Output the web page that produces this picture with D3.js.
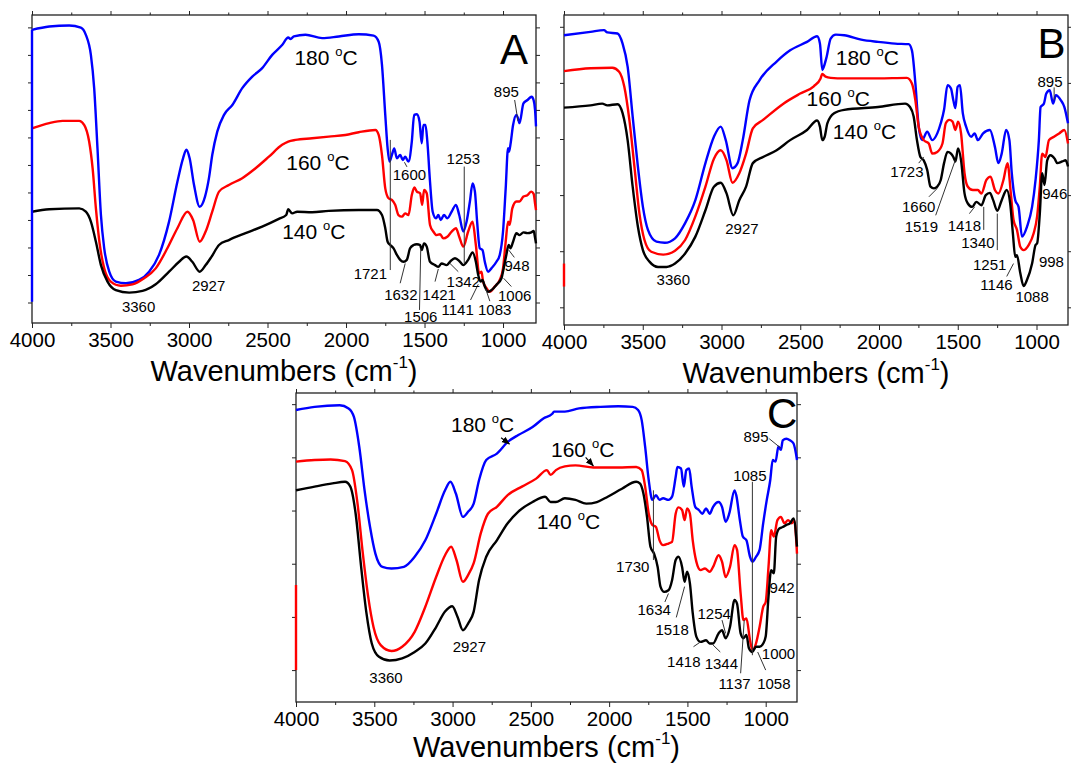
<!DOCTYPE html>
<html>
<head>
<meta charset="utf-8">
<script src="https://cdn.jsdelivr.net/npm/d3@7"></script>
<style>
  html, body { margin: 0; padding: 0; background: #fff; }
  svg { display: block; }
  text { font-family: "Liberation Sans", Arial, Helvetica, sans-serif; fill: #000; }
</style>
</head>
<body>
<svg id="chart" width="1071" height="764"></svg>
<script>
// ---------------- DATA ----------------
const majorTicks = [4000, 3500, 3000, 2500, 2000, 1500, 1000];
const minorTicks = [3750, 3250, 2750, 2250, 1750, 1250];
const seriesNames = ["180", "160", "140"];
const seriesColors = ["#0000ff", "#ff0000", "#000000"];

// Panel A  [wavenumber, relative transmittance (a.u.)]
const A_180 = [[4000,9.91],[3890,10.03],[3763,10.07],[3689,9.99],[3657,9.73],[3625,9.0],[3604,7.79],[3583,5.61],[3561,3.18],[3540,1.97],[3508,1.12],[3466,0.76],[3402,0.70],[3318,0.82],[3254,1.12],[3191,1.73],[3127,2.94],[3074,4.39],[3038,5.24],[3017,5.55],[2996,5.24],[2968,4.27],[2932,3.48],[2898,3.85],[2873,4.52],[2852,5.36],[2820,6.21],[2777,6.82],[2724,7.18],[2661,7.79],[2597,8.21],[2534,8.52],[2470,9.0],[2407,9.36],[2368,9.63],[2353,9.58],[2332,9.67],[2258,9.73],[2152,9.61],[2046,9.67],[1919,9.75],[1824,9.70],[1792,9.48],[1771,8.64],[1750,6.82],[1735,5.6],[1723,5.12],[1708,5.36],[1693,5.6],[1676,5.24],[1655,5.36],[1638,5.18],[1623,5.3],[1602,5.12],[1581,5.85],[1566,6.82],[1549,6.84],[1532,6.58],[1518,5.79],[1507,6.45],[1494,6.45],[1482,5.85],[1465,4.39],[1448,3.30],[1427,3.06],[1412,3.18],[1397,3.0],[1376,3.18],[1355,3.06],[1327,3.30],[1300,3.55],[1279,3.18],[1253,2.58],[1232,2.94],[1211,3.67],[1194,4.33],[1179,4.03],[1165,2.94],[1148,1.97],[1131,1.91],[1116,1.48],[1095,1.12],[1074,1.24],[1042,1.48],[1021,1.73],[1000,2.58],[983,4.15],[968,5.61],[962,5.48],[953,5.73],[936,6.45],[915,6.82],[905,6.7],[895,6.52],[870,7.24],[844,7.36],[818,7.48],[805,7.35],[796,7.0],[790,6.4]];
const A_160 = [[4000,6.33],[3890,6.52],[3805,6.60],[3699,6.60],[3667,6.45],[3636,5.85],[3614,4.88],[3593,3.42],[3568,2.09],[3540,1.24],[3498,0.76],[3434,0.61],[3360,0.66],[3286,0.88],[3212,1.24],[3138,1.97],[3074,2.70],[3010,3.30],[2974,3.0],[2932,2.21],[2894,2.58],[2852,3.30],[2809,4.03],[2746,4.27],[2661,4.52],[2576,4.88],[2491,5.30],[2407,5.73],[2368,5.85],[2322,5.91],[2216,5.97],[2110,6.03],[2004,6.09],[1919,6.19],[1813,6.27],[1792,6.09],[1771,5.36],[1750,4.15],[1729,3.79],[1708,3.73],[1687,3.55],[1666,3.18],[1644,3.12],[1623,3.24],[1602,3.18],[1581,3.91],[1564,4.18],[1549,4.03],[1528,3.97],[1515,3.55],[1503,4.09],[1486,3.97],[1465,2.82],[1444,2.58],[1423,2.45],[1401,2.48],[1380,2.33],[1355,2.39],[1327,2.58],[1300,2.70],[1279,2.39],[1253,2.03],[1222,2.58],[1194,2.94],[1173,2.09],[1152,1.06],[1137,1.12],[1127,0.76],[1105,0.52],[1084,0.39],[1053,0.58],[1021,0.82],[1000,1.24],[983,2.21],[968,2.94],[958,2.82],[941,3.42],[915,3.67],[895,3.67],[870,3.85],[845,3.9],[820,4.03],[805,3.95],[796,3.6],[790,3.36]];
const A_140 = [[4000,3.30],[3890,3.39],[3699,3.42],[3657,3.30],[3625,2.94],[3593,2.21],[3561,1.36],[3519,0.76],[3466,0.45],[3381,0.36],[3296,0.42],[3212,0.66],[3127,1.12],[3063,1.48],[3017,1.67],[2979,1.48],[2932,1.12],[2894,1.36],[2856,1.67],[2809,2.09],[2746,2.27],[2640,2.52],[2534,2.76],[2428,3.04],[2381,3.18],[2368,3.39],[2343,3.24],[2311,3.30],[2216,3.28],[2110,3.33],[1919,3.36],[1803,3.36],[1771,3.18],[1750,2.70],[1735,2.21],[1718,2.09],[1697,1.97],[1676,1.73],[1655,1.55],[1634,1.48],[1613,1.55],[1592,1.97],[1570,2.09],[1549,2.12],[1528,2.09],[1518,1.91],[1503,2.15],[1486,2.03],[1465,1.48],[1433,1.36],[1412,1.30],[1391,1.42],[1359,1.36],[1338,1.48],[1306,1.61],[1274,1.48],[1253,1.36],[1222,1.55],[1194,1.82],[1173,1.48],[1158,1.0],[1143,0.76],[1131,0.82],[1116,0.58],[1095,0.39],[1074,0.45],[1042,0.64],[1010,0.88],[996,1.24],[979,1.73],[964,2.09],[953,1.97],[936,2.21],[915,2.52],[895,2.45],[870,2.55],[845,2.52],[820,2.55],[805,2.6],[796,2.35],[790,2.15]];

// Panel B
const B_180 = [[4000,4.85],[3832,4.91],[3746,4.94],[3725,4.90],[3660,4.88],[3628,4.70],[3596,4.29],[3564,3.40],[3531,2.51],[3499,1.79],[3467,1.38],[3413,1.17],[3360,1.15],[3295,1.23],[3231,1.50],[3166,1.91],[3102,2.57],[3048,3.04],[3005,3.22],[2973,2.98],[2930,2.48],[2898,2.57],[2865,2.98],[2822,3.69],[2758,4.05],[2650,4.38],[2564,4.58],[2457,4.73],[2393,4.83],[2375,4.70],[2360,4.23],[2350,4.29],[2332,4.47],[2307,4.79],[2274,4.86],[2221,4.85],[2113,4.77],[2006,4.73],[1898,4.70],[1812,4.69],[1791,4.58],[1769,3.99],[1748,3.22],[1726,2.98],[1694,3.13],[1662,2.98],[1630,3.10],[1608,3.28],[1587,3.52],[1565,3.96],[1543,3.90],[1528,3.69],[1515,3.55],[1501,3.93],[1486,3.96],[1468,3.46],[1447,3.22],[1415,3.04],[1393,3.10],[1372,2.98],[1339,3.10],[1296,3.16],[1264,2.86],[1242,2.57],[1221,2.74],[1193,3.16],[1172,2.98],[1157,2.39],[1135,1.91],[1114,1.79],[1092,1.26],[1060,1.44],[1028,1.79],[1006,2.27],[985,2.98],[974,3.57],[953,3.63],[938,3.81],[916,3.87],[895,3.63],[877,3.78],[845,3.69],[823,3.57],[800,3.28]];
const B_160 = [[4000,4.21],[3832,4.26],[3693,4.27],[3650,4.20],[3617,3.93],[3585,3.34],[3553,2.51],[3521,1.67],[3489,1.20],[3446,0.99],[3370,0.94],[3295,1.01],[3231,1.20],[3166,1.62],[3102,2.15],[3048,2.65],[3005,2.80],[2968,2.62],[2930,2.22],[2887,2.39],[2844,2.74],[2801,3.19],[2736,3.34],[2607,3.63],[2500,3.81],[2414,3.94],[2371,4.08],[2360,4.16],[2339,4.11],[2307,4.09],[2221,4.08],[2006,4.08],[1823,4.09],[1791,3.99],[1769,3.69],[1748,3.22],[1716,2.98],[1684,2.92],[1662,2.74],[1630,2.77],[1597,2.92],[1576,3.28],[1554,3.34],[1533,3.31],[1515,3.16],[1498,3.31],[1479,3.10],[1457,2.39],[1436,2.15],[1404,2.09],[1372,2.09],[1350,2.03],[1318,2.27],[1292,2.33],[1264,2.09],[1242,2.03],[1210,2.27],[1184,2.57],[1163,2.03],[1146,1.56],[1124,1.38],[1103,1.08],[1082,1.02],[1050,1.11],[1018,1.32],[996,1.62],[979,2.15],[964,2.74],[943,2.68],[921,2.98],[889,3.04],[856,3.10],[823,3.16],[800,2.92]];
const B_140 = [[4000,3.56],[3832,3.60],[3757,3.63],[3725,3.60],[3660,3.62],[3628,3.46],[3596,2.98],[3564,2.15],[3531,1.44],[3499,1.02],[3456,0.81],[3403,0.72],[3349,0.72],[3295,0.78],[3231,0.96],[3166,1.26],[3102,1.73],[3048,2.15],[3005,2.22],[2968,2.03],[2925,1.64],[2887,1.91],[2844,2.15],[2801,2.57],[2736,2.68],[2650,2.80],[2564,2.98],[2457,3.16],[2393,3.33],[2375,3.22],[2360,2.98],[2345,3.04],[2328,3.28],[2285,3.46],[2221,3.52],[2006,3.57],[1834,3.63],[1803,3.57],[1780,3.40],[1759,2.98],[1737,2.68],[1716,2.62],[1694,2.45],[1673,2.15],[1651,2.12],[1630,2.15],[1608,2.27],[1587,2.57],[1565,2.77],[1543,2.74],[1528,2.68],[1515,2.60],[1498,2.83],[1479,2.62],[1457,2.03],[1436,1.85],[1408,1.79],[1382,1.88],[1350,1.82],[1322,2.00],[1296,2.04],[1275,1.91],[1249,1.72],[1221,1.91],[1189,2.09],[1167,1.85],[1150,1.32],[1135,0.90],[1124,0.93],[1103,0.61],[1082,0.38],[1060,0.49],[1028,0.78],[1006,1.11],[996,1.14],[979,1.67],[964,2.39],[949,2.18],[932,2.62],[911,2.71],[885,2.65],[868,2.57],[836,2.60],[815,2.62],[800,2.51]];

// Panel C
const C_180 = [[4000,4.89],[3881,4.95],[3721,4.98],[3664,4.92],[3630,4.76],[3596,4.20],[3562,3.38],[3527,2.69],[3493,2.19],[3448,1.94],[3390,1.91],[3311,1.94],[3242,2.13],[3174,2.44],[3105,2.94],[3048,3.38],[3014,3.54],[2979,3.32],[2934,2.88],[2900,2.98],[2865,3.13],[2831,3.57],[2785,3.95],[2717,4.07],[2648,4.29],[2580,4.42],[2489,4.57],[2420,4.73],[2363,4.82],[2352,4.86],[2283,4.86],[2192,4.92],[2055,4.95],[1941,4.96],[1849,4.95],[1815,4.89],[1792,4.70],[1770,4.20],[1747,3.57],[1724,3.20],[1701,3.29],[1678,3.20],[1655,3.23],[1621,3.20],[1598,3.26],[1575,3.63],[1564,3.82],[1541,3.79],[1523,3.45],[1507,3.76],[1489,3.79],[1473,3.45],[1450,3.07],[1427,3.01],[1404,2.94],[1381,3.04],[1358,2.94],[1336,3.07],[1301,3.16],[1279,3.07],[1256,2.79],[1233,2.94],[1199,3.38],[1188,3.29],[1165,2.82],[1146,2.51],[1123,2.44],[1100,2.13],[1085,2.04],[1062,2.13],[1039,2.26],[1016,2.76],[993,3.20],[971,3.57],[955,3.95],[937,3.92],[919,4.20],[903,4.14],[891,4.32],[868,4.35],[845,4.32],[822,4.26],[800,3.95]];
const C_160 = [[4000,3.92],[3881,3.95],[3779,3.96],[3687,3.93],[3642,3.76],[3607,3.13],[3573,2.19],[3539,1.38],[3505,0.81],[3459,0.47],[3390,0.36],[3322,0.44],[3242,0.72],[3174,1.19],[3105,1.75],[3048,2.16],[3009,2.32],[2975,2.07],[2934,1.66],[2900,1.79],[2865,2.01],[2820,2.57],[2774,2.94],[2717,3.07],[2648,3.29],[2557,3.45],[2466,3.60],[2397,3.76],[2374,3.67],[2340,3.76],[2283,3.83],[2215,3.85],[2101,3.81],[1941,3.81],[1827,3.82],[1792,3.76],[1770,3.45],[1747,2.94],[1724,2.73],[1701,2.69],[1678,2.44],[1655,2.35],[1621,2.38],[1598,2.41],[1575,2.94],[1557,3.06],[1534,3.01],[1518,2.82],[1502,3.04],[1484,2.94],[1466,2.44],[1443,2.04],[1416,1.88],[1388,1.91],[1358,1.85],[1336,1.94],[1301,2.16],[1279,2.04],[1256,1.75],[1228,1.94],[1199,2.35],[1183,2.26],[1160,1.44],[1142,0.94],[1123,0.97],[1100,0.56],[1085,0.38],[1062,0.50],[1039,0.81],[1016,1.19],[1000,1.28],[982,1.94],[965,2.63],[948,2.51],[925,2.82],[903,2.88],[880,2.76],[857,2.82],[834,2.76],[818,2.82],[800,2.19]];
const C_140 = [[4000,3.38],[3881,3.45],[3767,3.51],[3687,3.54],[3653,3.45],[3619,2.94],[3584,1.94],[3550,1.07],[3516,0.50],[3470,0.25],[3402,0.18],[3322,0.22],[3242,0.34],[3174,0.50],[3105,0.81],[3048,1.10],[3002,1.20],[2968,1.00],[2934,0.75],[2900,0.88],[2865,1.10],[2831,1.69],[2785,2.13],[2717,2.44],[2648,2.76],[2580,2.98],[2489,3.16],[2409,3.26],[2374,3.16],[2340,3.16],[2283,3.23],[2215,3.20],[2146,3.13],[2078,3.16],[2009,3.26],[1918,3.41],[1827,3.54],[1804,3.51],[1781,3.32],[1758,2.88],[1736,2.32],[1713,2.19],[1690,1.94],[1672,1.57],[1648,1.47],[1621,1.50],[1598,1.69],[1575,2.07],[1557,2.13],[1534,1.94],[1518,1.66],[1502,1.85],[1484,1.63],[1466,1.07],[1443,0.63],[1416,0.53],[1381,0.56],[1358,0.50],[1336,0.50],[1301,0.69],[1279,0.75],[1256,0.60],[1228,0.81],[1199,1.32],[1183,1.25],[1160,0.69],[1142,0.60],[1123,0.66],[1107,0.41],[1085,0.34],[1062,0.44],[1039,0.44],[1016,0.50],[1000,0.63],[982,1.38],[965,1.88],[948,1.82],[933,2.51],[914,2.66],[891,2.69],[868,2.73],[845,2.76],[822,2.85],[800,2.32]];

// vertical start segments at 4000 cm-1 (series index, from, to)
const startEdgesA = [[0, 9.91, 0.03]];
const startEdgesB = [[1, 0.78, 0.37]];
const startEdgesC = [[1, 1.6, 0.0]];

// Peak labels: [text, wavenumber, value]
const peaksA = [["3360",3321,-0.15],["2927",2875,0.60],["1721",1845,1.06],["1600",1596,4.66],["1253",1253,5.22],["1632",1651,0.30],["1421",1406,0.30],["1506",1524,-0.52],["1342",1253,0.76],["1141",1289,-0.27],["1083",1053,-0.27],["1006",926,0.27],["948",911,1.36],["895",979,7.67]];
const peaksB = [["3360",3306,0.49],["2927",2870,1.41],["1723",1823,2.42],["1660",1748,1.79],["1519",1731,1.44],["1418",1458,1.46],["1340",1372,1.15],["1251",1297,0.77],["1146",1254,0.40],["1088",1028,0.19],["998",905,0.81],["946",884,2.03],["895",914,4.03]];
const peaksC = [["3360",3425,-0.14],["2927",2893,0.44],["1730",1849,1.94],["1634",1712,1.13],["1518",1598,0.76],["1418",1523,0.17],["1344",1283,0.13],["1254",1329,1.07],["1137",1199,-0.25],["1058",948,-0.25],["1000",918,0.31],["942",895,1.55],["1085",1101,3.65],["895",1062,4.40]];

// Leader lines: [wn1, v1, wn2, v2]
const leadersA = [[1612,4.93,1628,5.1],[1247,4.94,1247,1.42],[1718,5.91,1718,1.18],[1655,0.70,1623,1.42],[1532,-0.27,1524,1.97],[1433,0.76,1412,1.22],[1285,1.12,1338,1.42],[1207,0.09,1158,0.66],[1084,0.05,1110,0.49],[947,0.58,996,0.88],[928,1.64,964,1.91],[926,7.36,905,6.6]];
const leadersB = [[888,3.92,888,3.69],[1748,2.57,1716,2.68],[1683,1.97,1630,2.12],[1640,1.64,1516,2.62],[1426,1.67,1393,1.79],[1335,1.38,1335,1.79],[1249,1.02,1249,1.67],[1189,0.55,1146,0.78]];
const leadersC = [[1717,3.38,1717,2.07],[1644,1.28,1621,1.44],[1571,0.99,1518,1.57],[1461,0.44,1416,0.53],[1290,0.34,1336,0.47],[1279,0.94,1256,0.69],[1160,-0.06,1137,0.94],[1000,0.0,1051,0.34],[1085,3.54,1085,0.28],[977,4.35,902,4.17]];

// Temperature labels: [series index, wn, value]
const tempsA = [[0,2127,8.88],[1,2179,5.06],[2,2205,2.58]];
const tempsB = [[0,2074,4.44],[1,2259,3.72],[2,2092,3.13]];
const tempsC = [[0,2808,4.61],[1,2169,4.14],[2,2260,2.79]];
const arrowsC = [[2690,4.37,2637,4.25],[2150,4.0,2101,3.84]];

// ---------------- LAYOUT ----------------
const panels = [
  {letter:"A", x0:32, x1:536, y0:15, y1:323, wnEnd:790, vMin:-0.745, vMax:10.45, yTicks:d3.range(0,11),
   series:[A_180,A_160,A_140], edges:startEdgesA, peaks:peaksA, leaders:leadersA, temps:tempsA, arrows:[],
   letterPos:[930,9.2], titleY:381},
  {letter:"B", x0:564, x1:1068, y0:15, y1:325, wnEnd:800, vMin:-0.315, vMax:5.21, yTicks:d3.range(0,6),
   series:[B_180,B_160,B_140], edges:startEdgesB, peaks:peaksB, leaders:leadersB, temps:tempsB, arrows:[],
   letterPos:[905,4.70], titleY:383},
  {letter:"C", x0:296, x1:797, y0:393, y1:702, wnEnd:800, vMin:-0.60, vMax:5.21, yTicks:d3.range(0,6),
   series:[C_180,C_160,C_140], edges:startEdgesC, peaks:peaksC, leaders:leadersC, temps:tempsC, arrows:arrowsC,
   letterPos:[895,4.82], titleY:757}
];

const svg = d3.select("#chart");
svg.append("defs").append("marker")
  .attr("id","arrowhead").attr("viewBox","0 0 10 10").attr("refX",9).attr("refY",5)
  .attr("markerWidth",7).attr("markerHeight",7).attr("orient","auto")
  .append("path").attr("d","M0,1 L10,5 L0,9 Z").attr("fill","#000");

panels.forEach(p => {
  const x = d3.scaleLinear().domain([4000, p.wnEnd]).range([p.x0, p.x1]);
  const y = d3.scaleLinear().domain([p.vMin, p.vMax]).range([p.y1, p.y0]);
  const g = svg.append("g");

  // axes
  const bottom = g.append("g").attr("transform", `translate(0,${p.y1})`)
    .call(d3.axisBottom(x).tickValues(majorTicks).tickSize(5).tickPadding(4).tickFormat(d3.format("d")));
  bottom.selectAll("text").attr("font-size", 20.5).style("font-family", '"Liberation Sans", Arial, sans-serif');
  g.append("g").attr("transform", `translate(0,${p.y1})`)
    .call(d3.axisBottom(x).tickValues(minorTicks).tickSize(3).tickFormat(""));
  g.append("g").attr("transform", `translate(0,${p.y0})`)
    .call(d3.axisTop(x).tickValues(majorTicks).tickSize(4).tickFormat(""));
  g.append("g").attr("transform", `translate(0,${p.y0})`)
    .call(d3.axisTop(x).tickValues(minorTicks).tickSize(2.5).tickFormat(""));
  g.append("g").attr("transform", `translate(${p.x0},0)`)
    .call(d3.axisLeft(y).tickValues(p.yTicks).tickSize(4).tickFormat(""));
  g.append("g").attr("transform", `translate(${p.x1},0)`)
    .call(d3.axisRight(y).tickValues(p.yTicks).tickSize(4).tickFormat(""));
  g.selectAll(".domain").remove();
  g.selectAll(".tick line").attr("stroke", "#222").attr("stroke-width", 1);

  g.append("rect").attr("x", p.x0).attr("y", p.y0)
    .attr("width", p.x1 - p.x0).attr("height", p.y1 - p.y0)
    .attr("fill", "none").attr("stroke", "#222").attr("stroke-width", 1.3);

  // axis title
  const t = g.append("text").attr("x", (p.x0 + p.x1) / 2).attr("y", p.titleY)
    .attr("text-anchor", "middle").attr("font-size", 29);
  t.append("tspan").text("Wavenumbers (cm");
  t.append("tspan").attr("font-size", 17).attr("dy", -13).text("-1");
  t.append("tspan").attr("dy", 13).text(")");

  // curves
  const line = d3.line().x(d => x(d[0])).y(d => y(d[1])).curve(d3.curveMonotoneX);
  p.series.forEach((s, i) => {
    g.append("path").attr("d", line(s)).attr("fill", "none")
      .attr("stroke", seriesColors[i]).attr("stroke-width", 2.4)
      .attr("stroke-linejoin", "round");
  });
  p.edges.forEach(e => {
    g.append("line").attr("x1", x(4000)).attr("x2", x(4000))
      .attr("y1", y(e[1])).attr("y2", y(e[2]))
      .attr("stroke", seriesColors[e[0]]).attr("stroke-width", 2.4);
  });

  // leader lines
  p.leaders.forEach(l => {
    g.append("line").attr("x1", x(l[0])).attr("y1", y(l[1]))
      .attr("x2", x(l[2])).attr("y2", y(l[3]))
      .attr("stroke", "#333").attr("stroke-width", 1);
  });
  p.arrows.forEach(l => {
    g.append("line").attr("x1", x(l[0])).attr("y1", y(l[1]))
      .attr("x2", x(l[2])).attr("y2", y(l[3]))
      .attr("stroke", "#000").attr("stroke-width", 1.2)
      .attr("marker-end", "url(#arrowhead)");
  });

  // peak labels
  p.peaks.forEach(k => {
    g.append("text").attr("x", x(k[1])).attr("y", y(k[2]))
      .attr("text-anchor", "middle").attr("dominant-baseline", "central")
      .attr("font-size", 15).text(k[0]);
  });

  // temperature labels
  p.temps.forEach(k => {
    const tx = g.append("text").attr("x", x(k[1])).attr("y", y(k[2]) + 7)
      .attr("text-anchor", "middle").attr("font-size", 21);
    tx.append("tspan").text(seriesNames[k[0]] + " ");
    tx.append("tspan").attr("font-size", 13).attr("dy", -9).text("o");
    tx.append("tspan").attr("dy", 9).text("C");
  });

  // panel letter
  g.append("text").attr("x", x(p.letterPos[0])).attr("y", y(p.letterPos[1]))
    .attr("text-anchor", "middle").attr("dominant-baseline", "central")
    .attr("font-size", 42).text(p.letter);
});
</script>
</body>
</html>
